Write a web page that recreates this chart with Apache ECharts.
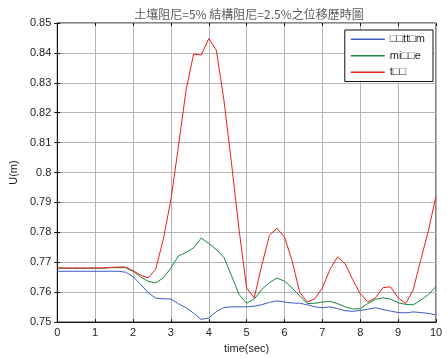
<!DOCTYPE html>
<html>
<head>
<meta charset="utf-8">
<script src="https://cdn.jsdelivr.net/npm/echarts@6/dist/echarts.min.js"></script>
<style>
  html, body { margin: 0; padding: 0; background: #fff; }
  #chart { width: 447px; height: 359px; }
</style>
</head>
<body>
<div id="chart"></div>
<script>
var titleText = '土壤阻尼=5% 結構阻尼=2.5%之位移歷時圖';
var seriesNames = ['□□tt□m', 'mi□□e', 't□□'];

var times = [0, 0.2, 0.4, 0.6, 0.8, 1, 1.2, 1.4, 1.6, 1.8,
  2, 2.2, 2.4, 2.6, 2.8, 3, 3.2, 3.4, 3.6, 3.8,
  4, 4.2, 4.4, 4.6, 4.8, 5, 5.2, 5.4, 5.6, 5.8,
  6, 6.2, 6.4, 6.6, 6.8, 7, 7.2, 7.4, 7.6, 7.8,
  8, 8.2, 8.4, 8.6, 8.8, 9, 9.2, 9.4, 9.6, 9.8, 10];

var bottomU = [0.7670, 0.7670, 0.7670, 0.7670, 0.7670, 0.7670, 0.7670, 0.7670, 0.7670, 0.7667,
  0.7652, 0.7626, 0.7598, 0.7580, 0.7578, 0.7577, 0.7561, 0.7548, 0.7530, 0.7509,
  0.7514, 0.7535, 0.7549, 0.7551, 0.7551, 0.7551, 0.7553, 0.7558, 0.7566, 0.7571,
  0.7567, 0.7564, 0.7563, 0.7558, 0.7551, 0.7548, 0.7551, 0.7545, 0.7538, 0.7536,
  0.7539, 0.7543, 0.7548, 0.7542, 0.7537, 0.7532, 0.7531, 0.7534, 0.7532, 0.7529, 0.7524];

var middleU = [0.7680, 0.7680, 0.7680, 0.7680, 0.7680, 0.7680, 0.7680, 0.7682, 0.7682, 0.7682,
  0.7670, 0.7651, 0.7636, 0.7631, 0.7648, 0.7681, 0.7721, 0.7733, 0.7748, 0.7781,
  0.7763, 0.7743, 0.7716, 0.7655, 0.7592, 0.7563, 0.7577, 0.7609, 0.7632, 0.7647,
  0.7637, 0.7614, 0.7588, 0.7562, 0.7563, 0.7567, 0.7569, 0.7562, 0.7551, 0.7544,
  0.7545, 0.7562, 0.7576, 0.7581, 0.7577, 0.7565, 0.7559, 0.7558, 0.7574, 0.7592, 0.7619];

var topU = [0.7681, 0.7681, 0.7681, 0.7681, 0.7681, 0.7681, 0.7681, 0.7683, 0.7684, 0.7684,
  0.7672, 0.7657, 0.7648, 0.7677, 0.7778, 0.7909, 0.8089, 0.8276, 0.8396, 0.8393,
  0.8448, 0.8409, 0.8242, 0.8031, 0.7809, 0.7614, 0.7581, 0.7690, 0.7790, 0.7814,
  0.7784, 0.7705, 0.7600, 0.7567, 0.7578, 0.7614, 0.7676, 0.7718, 0.7695, 0.7642,
  0.7595, 0.7567, 0.7581, 0.7615, 0.7618, 0.7581, 0.7562, 0.7609, 0.7709, 0.7806, 0.7922];

var lineColors = ['#3b5bc6', '#168a3c', '#f01c1c'];

function pairs(vals) {
  return times.map(function (t, i) { return [t, vals[i]]; });
}

var font = 'Liberation Sans, Arial, sans-serif';
var chart = echarts.init(document.getElementById('chart'), null, { renderer: 'canvas' });

var option = {
  animation: false,
  backgroundColor: '#fff',
  title: {
    text: titleText,
    left: 244,
    textAlign: 'center',
    top: 3,
    textStyle: {
      fontFamily: 'Noto Sans CJK TC, sans-serif',
      fontSize: 12,
      fontWeight: 'normal',
      color: '#5a5a5a'
    }
  },
  grid: {
    left: 56.5,
    right: 11,
    top: 23,
    bottom: 36,
    show: true,
    borderColor: '#111',
    borderWidth: 1,
    backgroundColor: '#fff'
  },
  legend: {
    orient: 'vertical',
    right: 14,
    top: 30,
    padding: [3, 8, 3, 6],
    backgroundColor: '#fff',
    borderColor: '#111',
    borderWidth: 1,
    icon: 'rect',
    itemWidth: 34,
    itemHeight: 1.5,
    itemGap: 4,
    data: seriesNames,
    textStyle: { fontFamily: font, fontSize: 11, color: '#222', lineHeight: 12.5 }
  },
  xAxis: [{
    type: 'value',
    min: 0,
    max: 10,
    interval: 1,
    name: 'time(sec)',
    nameLocation: 'middle',
    nameGap: 20,
    nameTextStyle: { fontFamily: font, fontSize: 11, color: '#222' },
    axisLine: { show: true, lineStyle: { color: '#111' } },
    axisTick: { show: true, inside: true, length: 3, lineStyle: { color: '#111' } },
    axisLabel: { fontFamily: font, fontSize: 11, color: '#222', margin: 5 },
    splitLine: { show: true, lineStyle: { color: '#b4b4b4', width: 1 } }
  }, {
    type: 'value',
    position: 'top',
    min: 0,
    max: 10,
    interval: 1,
    axisLine: { show: false },
    axisTick: { show: true, inside: true, length: 3, lineStyle: { color: '#111' } },
    axisLabel: { show: false },
    splitLine: { show: false }
  }],
  yAxis: [{
    type: 'value',
    min: 0.75,
    max: 0.85,
    interval: 0.01,
    name: 'U(m)',
    nameLocation: 'middle',
    nameRotate: 90,
    nameGap: 37,
    nameTextStyle: { fontFamily: font, fontSize: 11, color: '#222' },
    axisLine: { show: true, lineStyle: { color: '#111' } },
    axisTick: { show: true, inside: true, length: 3, lineStyle: { color: '#111' } },
    axisLabel: {
      fontFamily: font, fontSize: 11, color: '#222', margin: 6,
      formatter: function (v) { return String(parseFloat(v.toFixed(2))); }
    },
    splitLine: { show: true, lineStyle: { color: '#b4b4b4', width: 1 } }
  }, {
    type: 'value',
    position: 'right',
    min: 0.75,
    max: 0.85,
    interval: 0.01,
    axisLine: { show: false },
    axisTick: { show: true, inside: true, length: 3, lineStyle: { color: '#111' } },
    axisLabel: { show: false },
    splitLine: { show: false }
  }],
  series: [
    { name: seriesNames[0], type: 'line', data: pairs(bottomU), symbol: 'none', color: lineColors[0], lineStyle: { width: 1 } },
    { name: seriesNames[1], type: 'line', data: pairs(middleU), symbol: 'none', color: lineColors[1], lineStyle: { width: 1 } },
    { name: seriesNames[2], type: 'line', data: pairs(topU), symbol: 'none', color: lineColors[2], lineStyle: { width: 1 } }
  ]
};
chart.setOption(option);
</script>
</body>
</html>
